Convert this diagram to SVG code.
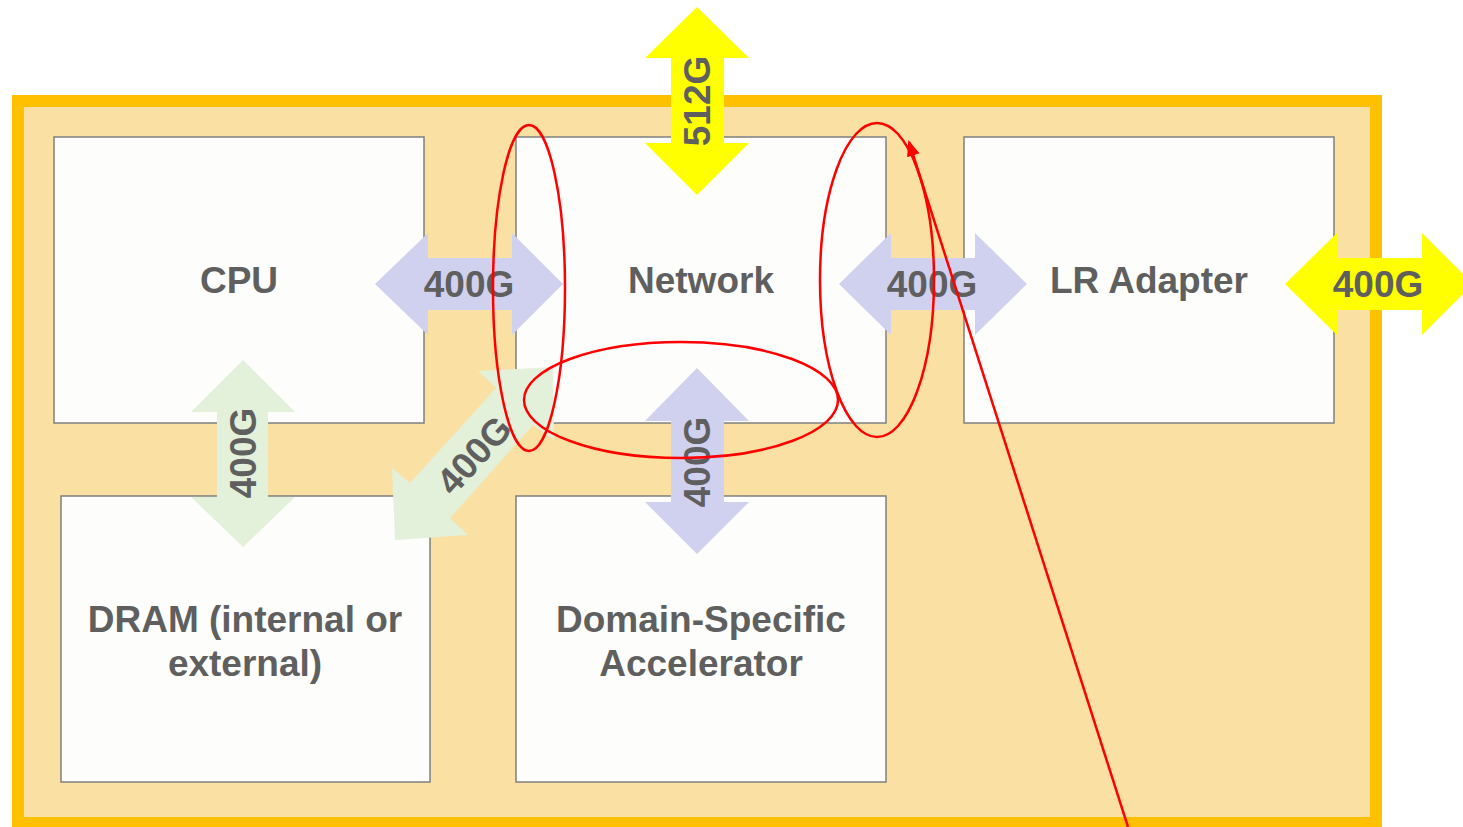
<svg xmlns="http://www.w3.org/2000/svg" width="1463" height="827" viewBox="0 0 1463 827">
  <defs>
    <style>
      .node rect { fill: #FDFDFB; stroke: #7F7F7F; stroke-width: 1.5; }
      .lbl { font-family: "Liberation Sans", Arial, sans-serif; font-weight: bold; font-size: 37px; fill: #5F5F5F; text-anchor: middle; }
      .yel { fill: #FFFF00; }
      .lav { fill: #D0D1EF; }
      .grn { fill: #E3F0DA; }
      .red { fill: none; stroke: #FF0000; stroke-width: 2.5; }
    </style>
    <marker id="redhead" viewBox="0 0 16 13" refX="14" refY="6.5" markerWidth="16" markerHeight="13" orient="auto" markerUnits="userSpaceOnUse">
      <path d="M0,0 L16,6.5 L0,13 Z" fill="#FF0000"/>
    </marker>
  </defs>
  <rect x="0" y="0" width="1463" height="827" fill="#FFFFFF"/>
  <g id="frame">
    <rect x="18" y="101" width="1358" height="722" fill="#FAE0A2" stroke="#FFC000" stroke-width="12"/>
  </g>
  <g id="cpu" class="node">
    <rect x="54" y="137" width="370" height="286"/>
    <text class="lbl" x="239" y="293">CPU</text>
  </g>
  <g id="network" class="node">
    <rect x="516" y="137" width="370" height="286"/>
    <text class="lbl" x="701" y="293">Network</text>
  </g>
  <g id="lr-adapter" class="node">
    <rect x="964" y="137" width="370" height="286"/>
    <text class="lbl" x="1149" y="293">LR Adapter</text>
  </g>
  <g id="dram" class="node">
    <rect x="61" y="496" width="369" height="286"/>
    <text class="lbl" x="245" y="632">DRAM (internal or</text>
    <text class="lbl" x="245" y="676">external)</text>
  </g>
  <g id="dsa" class="node">
    <rect x="516" y="496" width="370" height="286"/>
    <text class="lbl" x="701" y="632">Domain-Specific</text>
    <text class="lbl" x="701" y="676">Accelerator</text>
  </g>
  <g id="connectors">
    <!-- 512G top -->
    <polygon class="yel" points="697,7 749,58 724,58 724,143 749,143 697,195 645,143 671,143 671,58 645,58"/>
    <text class="lbl" transform="translate(697,101) rotate(-90)" x="0" y="13">512G</text>
    <!-- CPU - Network -->
    <polygon class="lav" points="375,284 428,233 428,258 512,258 512,233 563,284 512,335 512,310 428,310 428,335"/>
    <text class="lbl" x="469" y="297">400G</text>
    <!-- Network - LR -->
    <polygon class="lav" points="839,284 891,233 891,258 975,258 975,233 1027,284 975,335 975,310 891,310 891,335"/>
    <text class="lbl" x="932" y="297">400G</text>
    <!-- LR - outside -->
    <polygon class="yel" points="1285,284 1337,233 1337,258 1422,258 1422,233 1473,284 1422,335 1422,310 1337,310 1337,335"/>
    <text class="lbl" x="1378" y="297">400G</text>
    <!-- Network - DSA -->
    <polygon class="lav" points="697,368 749,421 724,421 724,502 749,502 697,554 645,502 671,502 671,421 645,421"/>
    <text class="lbl" transform="translate(697,462) rotate(-90)" x="0" y="13">400G</text>
    <!-- CPU - DRAM -->
    <polygon class="grn" points="243,360 295,412 268,412 268,497 295,497 243,547 191,497 217,497 217,412 191,412"/>
    <text class="lbl" transform="translate(243,453) rotate(-90)" x="0" y="13">400G</text>
    <!-- Network - DRAM diagonal -->
    <polygon class="grn" points="553,367 554,440 533,425 450,518 468,535 395,540 392,468 410,483 496,388 478,371"/>
    <text class="lbl" transform="translate(474,455) rotate(-47.6)" x="0" y="13">400G</text>
  </g>
  <g id="annotations">
    <ellipse class="red" cx="529" cy="288" rx="36" ry="163"/>
    <ellipse class="red" cx="877" cy="280" rx="57" ry="157"/>
    <ellipse class="red" cx="681" cy="400" rx="157" ry="58"/>
    <line class="red" x1="1128" y1="827" x2="909" y2="142" marker-end="url(#redhead)"/>
  </g>
</svg>
